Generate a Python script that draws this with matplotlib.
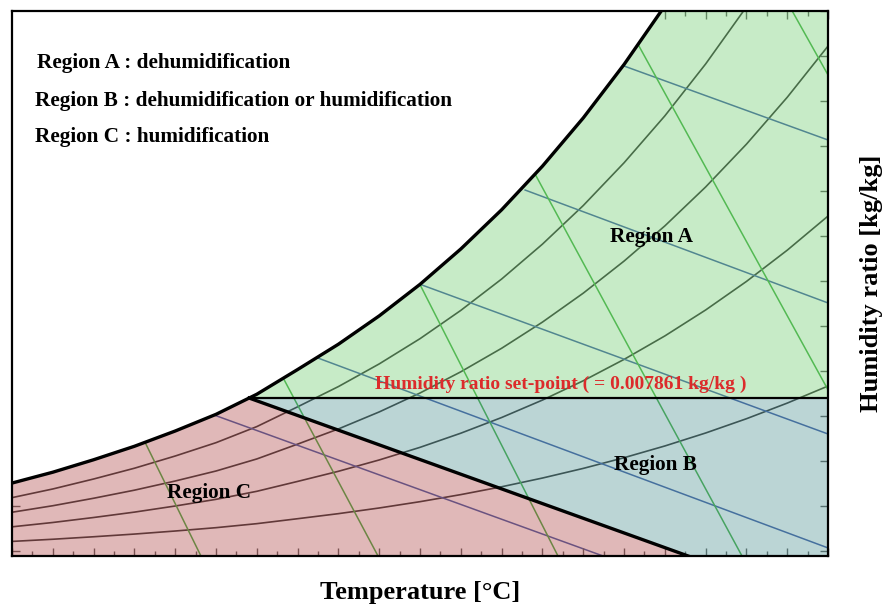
import numpy as np
import matplotlib
matplotlib.use("Agg")
import matplotlib.pyplot as plt
from matplotlib.ticker import MultipleLocator

# ---------------------------------------------------------------------------
# Valeurs lues sur le diagramme (température en °C, humidité absolue en kg/kg)
# ---------------------------------------------------------------------------
# courbe de saturation (HR = 100 %), estimée tous les 2 °C
sat_temp = [0, 2, 4, 6, 8, 10, 12, 14, 16, 18, 20,
            22, 24, 26, 28, 30, 32, 34, 36, 38, 40]
sat_w = [0.00363, 0.00417, 0.00479, 0.00546, 0.00622, 0.00705, 0.00805,
         0.00928, 0.01054, 0.01195, 0.01352, 0.01528, 0.01723, 0.01940,
         0.02180, 0.02446, 0.02738, 0.03061, 0.03416, 0.03805, 0.04230]

# humidités relatives tracées sous la saturation
rh_levels = [0.2, 0.4, 0.6, 0.8]

# droites d'enthalpie (début sur la saturation -> fin sur le bord)
enth_t0 = [9.95, 15.0, 20.0, 25.15, 29.95]
enth_w0 = [0.00700, 0.00985, 0.01352, 0.01821, 0.02440]
enth_t1 = [28.97, 40.0, 40.0, 40.0, 40.0]
enth_w1 = [0.0, 0.00040, 0.00607, 0.01259, 0.02070]

# droites de volume spécifique
vol_t0 = [6.52, 13.28, 20.0, 25.64, 30.69, 38.24]
vol_w0 = [0.00566, 0.00888, 0.0135, 0.01900, 0.02545, 0.02712]
vol_t1 = [9.26, 17.94, 26.76, 35.78, 40.0, 40.0]
vol_w1 = [0.0, 0.0, 0.0, 0.0, 0.00826, 0.02393]

# consigne d'humidité et limite B / C (droite d'enthalpie passant par la consigne)
setpoint = 0.007861
bc_end_temp = 33.14

T_MIN, T_MAX = 0.0, 40.0
W_MIN, W_MAX = 0.0, 0.02712

SERIF = "Liberation Serif"

T_sat = np.array(sat_temp, dtype=float)
W_sat = np.array(sat_w)

fig = plt.figure(figsize=(8.89, 6.11), dpi=100)
ax = fig.add_axes([0.0135, 0.090, 0.918, 0.892])
ax.set_xlim(T_MIN, T_MAX)
ax.set_ylim(W_MIN, W_MAX)

# --- grille psychrométrique (sous les zones colorées) ---
for phi in rh_levels:
    ax.plot(T_sat, phi * W_sat, color="black", lw=1.2, zorder=1)

for t0, w0, t1, w1 in zip(enth_t0, enth_w0, enth_t1, enth_w1):
    ax.plot([t0, t1], [w0, w1], color="#12338f", lw=1.1, zorder=1)

for t0, w0, t1, w1 in zip(vol_t0, vol_w0, vol_t1, vol_w1):
    ax.plot([t0, t1], [w0, w1], color="#169a16", lw=1.1, zorder=1)

# --- zones A, B, C ---
t_corner = np.interp(setpoint, W_sat, T_sat)
upper = T_sat > t_corner
lower = T_sat < t_corner

zone_a_x = [t_corner] + list(T_sat[upper]) + [T_MAX]
zone_a_y = [setpoint] + list(W_sat[upper]) + [setpoint]
zone_b_x = [t_corner, T_MAX, T_MAX, bc_end_temp]
zone_b_y = [setpoint, setpoint, W_MIN, W_MIN]
zone_c_x = [T_MIN] + list(T_sat[lower]) + [t_corner, bc_end_temp]
zone_c_y = [W_MIN] + list(W_sat[lower]) + [setpoint, W_MIN]

ax.fill(zone_a_x, zone_a_y, color="#91d991", alpha=0.5, lw=0, zorder=2)
ax.fill(zone_b_x, zone_b_y, color="#79adad", alpha=0.5, lw=0, zorder=2)
ax.fill(zone_c_x, zone_c_y, color="#c27272", alpha=0.5, lw=0, zorder=2)

# au-dessus de la saturation : blanc
ax.fill_between(T_sat, W_sat, 1.0, color="white", lw=0, zorder=3)

# --- limites épaisses ---
ax.plot(T_sat, W_sat, color="black", lw=2.4, zorder=4)
ax.plot([t_corner, T_MAX], [setpoint, setpoint], color="black", lw=1.6, zorder=4)
ax.plot([t_corner, bc_end_temp], [setpoint, W_MIN], color="black", lw=2.4,
        zorder=4)

# --- textes ---
txt = dict(family=SERIF, fontweight="bold", fontsize=15.3, color="black")
ax.text(0.0303, 0.8954, "Region A : dehumidification",
        transform=ax.transAxes, va="baseline", zorder=5, **txt)
ax.text(0.0285, 0.8257, "Region B : dehumidification or humidification",
        transform=ax.transAxes, va="baseline", zorder=5, **txt)
ax.text(0.0285, 0.7596, "Region C : humidification",
        transform=ax.transAxes, va="baseline", zorder=5, **txt)

ax.text(31.35, 0.01565, "Region A", ha="center", va="baseline", zorder=5, **txt)
ax.text(31.52, 0.00428, "Region B", ha="center", va="baseline", zorder=5, **txt)
ax.text(9.66, 0.00289, "Region C", ha="center", va="baseline", zorder=5, **txt)

ax.text(26.91, 0.00829,
        "Humidity ratio set-point ( = %.6f kg/kg )" % setpoint,
        ha="center", va="baseline", family=SERIF, fontweight="bold",
        fontsize=14, color="#dc2b2b", zorder=5)

# --- axes ---
ax.set_xlabel("Temperature [°C]", family=SERIF, fontweight="bold",
              fontsize=19, labelpad=18)
ax.yaxis.set_label_position("right")
ax.set_ylabel("Humidity ratio [kg/kg]", family=SERIF, fontweight="bold",
              fontsize=19, labelpad=23)

ax.xaxis.set_major_locator(MultipleLocator(2))
ax.xaxis.set_minor_locator(MultipleLocator(1))
ax.set_yticks(np.arange(W_MAX, W_MIN, -0.00224))
ax.tick_params(which="both", direction="in", top=True, right=True,
               labelbottom=False, labelleft=False, color="#333333")
ax.tick_params(which="major", length=6, width=1)
ax.tick_params(which="minor", length=3.5, width=1)

for spine in ax.spines.values():
    spine.set_linewidth(1.6)
    spine.set_zorder(6)

fig.savefig("out.png", dpi=100)
